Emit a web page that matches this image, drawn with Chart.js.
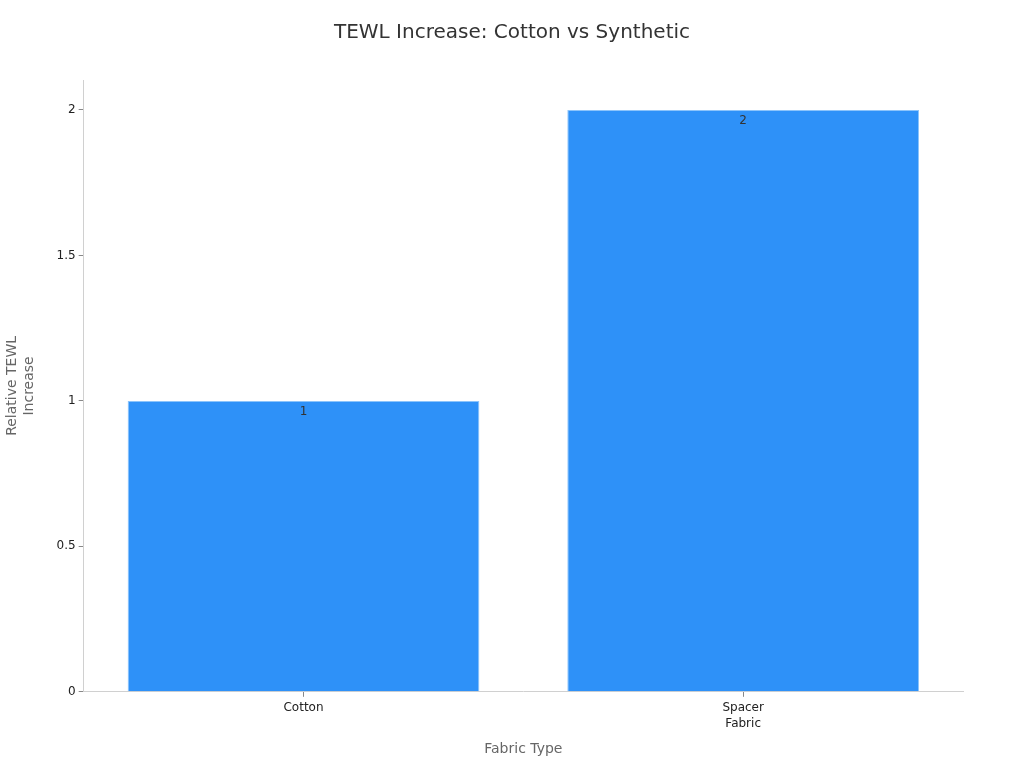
<!DOCTYPE html>
<html>
<head>
<meta charset="utf-8">
<script src="https://cdn.jsdelivr.net/npm/chart.js@4/dist/chart.umd.min.js"></script>
<style>
  html, body { margin: 0; padding: 0; background: #fff; }
  #wrap { width: 1024px; height: 768px; }
</style>
</head>
<body>
<div id="wrap"><canvas id="barChart" width="1024" height="768"></canvas></div>
<script>
let fabrics = [["Cotton"], ["Spacer", "Fabric"]];
let tewl = [1, 2];
let yTicks = [0, 0.5, 1, 1.5, 2];
let chartTitle = "TEWL Increase: Cotton vs Synthetic";

// value just under the top of each bar
const valueLabels = {
    id: "valueLabels",
    afterDatasetsDraw(chart) {
        const ctx = chart.ctx;
        const meta = chart.getDatasetMeta(0);
        ctx.save();
        ctx.font = "12px 'DejaVu Sans'";
        ctx.fillStyle = "#333";
        ctx.textAlign = "center";
        ctx.textBaseline = "top";
        meta.data.forEach(function (bar, i) {
            ctx.fillText(String(tewl[i]), bar.x, bar.y + 5);
        });
        ctx.restore();
    }
};

// title centred on the whole canvas, not on the padded area
const pageTitle = {
    id: "pageTitle",
    afterDraw(chart) {
        const ctx = chart.ctx;
        ctx.save();
        ctx.font = "20px 'DejaVu Sans'";
        ctx.fillStyle = "#333";
        ctx.textAlign = "center";
        ctx.textBaseline = "middle";
        ctx.fillText(chartTitle, chart.width / 2, 33);
        ctx.restore();
    }
};

document.addEventListener("DOMContentLoaded", function () {
    Chart.defaults.font.family = "'DejaVu Sans', sans-serif";
    const ctx = document.getElementById("barChart").getContext("2d");
    new Chart(ctx, {
        type: "bar",
        data: {
            labels: fabrics,
            datasets: [{
                data: tewl,
                backgroundColor: "#2E91F8",
                borderColor: "#8CC4FB",
                borderWidth: 1,
                barPercentage: 0.8,
                categoryPercentage: 1
            }]
        },
        options: {
            responsive: false,
            animation: false,
            devicePixelRatio: 1,
            layout: { padding: { left: 0, right: 61, top: 80, bottom: 6 } },
            plugins: {
                legend: { display: false },
                tooltip: { enabled: false },
                title: { display: false }
            },
            scales: {
                x: {
                    grid: { display: true, offset: false, drawOnChartArea: false, tickLength: 5, tickColor: "#888" },
                    border: { color: "#d0d0d0" },
                    ticks: { color: "#222", font: { size: 12, lineHeight: 1.35 }, padding: 3 },
                    title: {
                        display: true,
                        text: "Fabric Type",
                        color: "#666",
                        font: { size: 14 },
                        padding: { top: 6 }
                    }
                },
                y: {
                    min: 0,
                    max: 2.103,
                    afterBuildTicks: function (axis) {
                        axis.ticks = yTicks.map(function (v) { return { value: v }; });
                    },
                    grid: { display: true, drawOnChartArea: false, tickLength: 5, tickColor: "#888" },
                    border: { color: "#d0d0d0" },
                    ticks: {
                        color: "#222",
                        font: { size: 12 },
                        padding: 3,
                        callback: function (v) { return String(v); }
                    },
                    title: {
                        display: true,
                        text: ["Relative TEWL", "Increase"],
                        color: "#666",
                        font: { size: 14 },
                        padding: { bottom: 16 }
                    }
                }
            }
        },
        plugins: [valueLabels, pageTitle]
    });
});
</script>
</body>
</html>
